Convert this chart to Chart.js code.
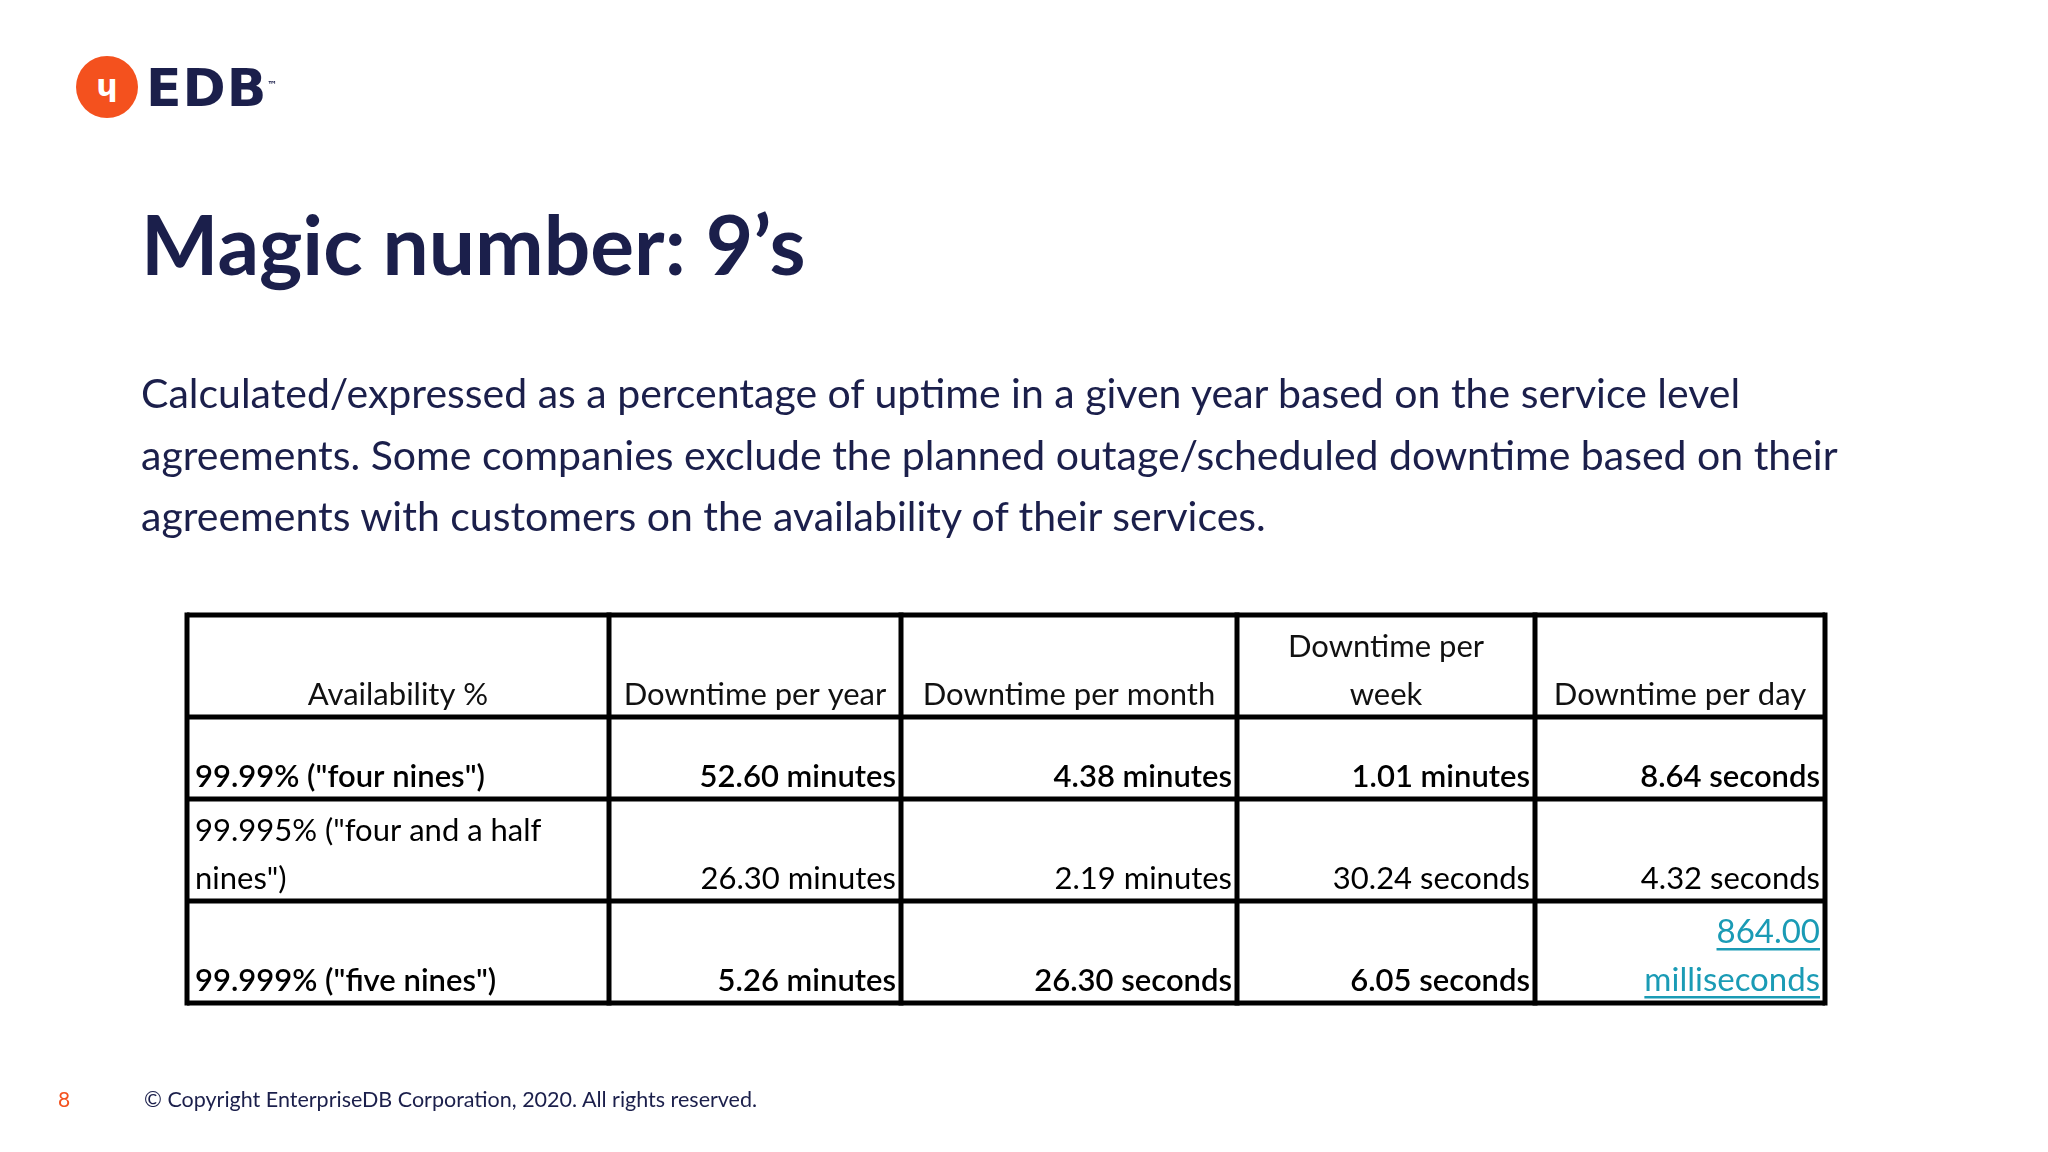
<!DOCTYPE html>
<html><head><meta charset="utf-8">
<script src="https://cdn.jsdelivr.net/npm/chart.js@4"></script>
<style>
body{margin:0;width:2048px;height:1152px;background:#fff;position:relative;overflow:hidden;font-family:Lato,"Open Sans",sans-serif;color:#1b1f4b}
#c{position:absolute;left:0;top:0}
.abs{position:absolute}
</style></head><body>
<canvas id="c" width="2048" height="1152"></canvas>
<div class="abs" style="left:76px;top:56px;width:62px;height:62px;border-radius:50%;background:#f4511e;color:#fff;font:bold 30px 'DejaVu Sans';text-align:center;line-height:60px">ɥ</div>
<div class="abs" style="left:146px;top:58px;font:bold 52px 'DejaVu Sans';color:#1b1f4b;letter-spacing:1px">EDB<sup style="font-size:10px">™</sup></div>
<div class="abs" style="left:141px;top:194px;font:bold 82px Lato;color:#1b1f4b">Magic number: 9’s</div>
<div class="abs" style="left:141px;top:362px;width:1750px;font:41px Lato;line-height:61.5px;color:#1b1f4b">Calculated/expressed as a percentage of uptime in a given year based on the service level agreements. Some companies exclude the planned outage/scheduled downtime based on their agreements with customers on the availability of their services.</div>
<div class="abs" style="left:58px;top:1086px;font:21px Lato;color:#f4511e">8</div>
<div class="abs" style="left:144px;top:1086px;font:21.5px Lato;color:#1b1f4b">© Copyright EnterpriseDB Corporation, 2020. All rights reserved.</div>
<script>
const headers = [['Availability %'], ['Downtime per year'], ['Downtime per month'], ['Downtime per', 'week'], ['Downtime per day']];
const availability = [['99.99% ("four nines")'], ['99.995% ("four and a half', 'nines")'], ['99.999% ("five nines")']];
const perYear = ['52.60 minutes', '26.30 minutes', '5.26 minutes'];
const perMonth = ['4.38 minutes', '2.19 minutes', '26.30 seconds'];
const perWeek = ['1.01 minutes', '30.24 seconds', '6.05 seconds'];
const perDay = [['8.64 seconds'], ['4.32 seconds'], ['864.00', 'milliseconds']];
const rowBold = [true, false, true];

// table grid in scale units (scale = page pixels)
const colEdges = [187, 609, 901, 1237, 1535, 1825];
const rowEdges = [615, 717, 799, 901, 1003];

const tablePlugin = {
  id: 'table',
  afterDraw(chart) {
    const ctx = chart.ctx, xs = chart.scales.x, ys = chart.scales.y;
    const X = v => xs.getPixelForValue(v), Y = v => ys.getPixelForValue(v);
    ctx.save();
    ctx.strokeStyle = '#000';
    ctx.lineWidth = 5;
    colEdges.forEach(c => { ctx.beginPath(); ctx.moveTo(X(c), Y(rowEdges[0]) - 2.5); ctx.lineTo(X(c), Y(rowEdges[4]) + 2.5); ctx.stroke(); });
    rowEdges.forEach(r => { ctx.beginPath(); ctx.moveTo(X(colEdges[0]), Y(r)); ctx.lineTo(X(colEdges[5]), Y(r)); ctx.stroke(); });
    ctx.textBaseline = 'alphabetic';
    const lines = (arr, r, xPos, align, font, color, underline) => {
      ctx.font = font; ctx.textAlign = align; ctx.fillStyle = color;
      const bottom = Y(rowEdges[r + 1]) - 12;
      arr.forEach((t, i) => {
        const y = bottom - (arr.length - 1 - i) * 48;
        ctx.fillText(t, xPos, y);
        if (underline) {
          const w = ctx.measureText(t).width;
          ctx.fillRect(align === 'right' ? xPos - w : xPos, y + 5, w, 2.5);
        }
      });
    };
    headers.forEach((h, i) => lines(h, 0, X((colEdges[i] + colEdges[i + 1]) / 2), 'center', '31px Lato', '#111'));
    const cols = [perYear, perMonth, perWeek];
    availability.forEach((a, r) => {
      const f = (rowBold[r] ? '600 ' : '') + '31px Lato';
      lines(a, r + 1, X(colEdges[0]) + 8, 'left', f, '#000');
      cols.forEach((c, i) => lines([c[r]], r + 1, X(colEdges[i + 2]) - 5, 'right', f, '#000'));
      const link = perDay[r].length > 1;
      lines(perDay[r], r + 1, X(colEdges[5]) - 5, 'right', link ? '33px Lato' : f, link ? '#1a9bb5' : '#000', link);
    });
    ctx.restore();
  }
};

new Chart(document.getElementById('c'), {
  type: 'scatter',
  data: { datasets: [{ data: [] }] },
  options: {
    responsive: false, animation: false,
    layout: { padding: 0 },
    plugins: { legend: { display: false }, tooltip: { enabled: false } },
    scales: {
      x: { type: 'linear', min: 0, max: 2048, display: false },
      y: { type: 'linear', min: 0, max: 1152, reverse: true, display: false }
    }
  },
  plugins: [tablePlugin]
});
</script>
</body></html>
